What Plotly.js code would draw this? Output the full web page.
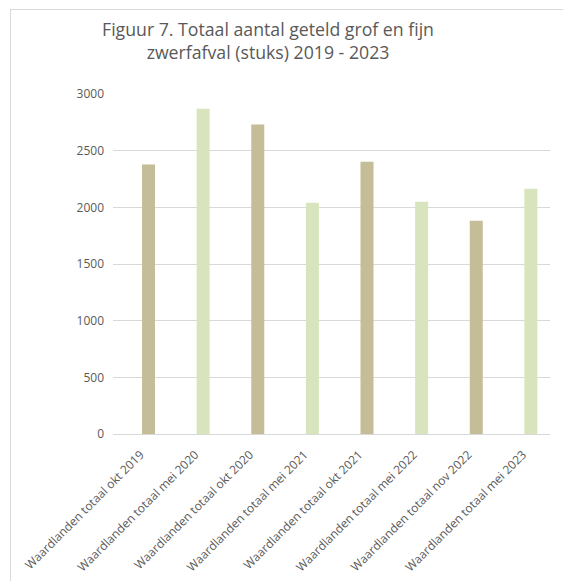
<!DOCTYPE html>
<html><head><meta charset="utf-8">
<script src="https://cdn.plot.ly/plotly-3.0.1.min.js"></script>
<style>
html,body{margin:0;padding:0;background:#fff;}
#frame{position:absolute;left:10px;top:9px;width:600px;height:600px;border:1px solid #d9d9d9;box-sizing:border-box;pointer-events:none;z-index:5;}
#chart{position:absolute;left:0;top:0;width:563px;height:581px;}
</style></head>
<body>
<div id="chart"></div>
<div id="frame"></div>
<script>
const categories = [
  "Waardlanden totaal okt 2019",
  "Waardlanden totaal mei 2020",
  "Waardlanden totaal okt 2020",
  "Waardlanden totaal mei 2021",
  "Waardlanden totaal okt 2021",
  "Waardlanden totaal mei 2022",
  "Waardlanden totaal nov 2022",
  "Waardlanden totaal mei 2023"
];
const values = [2378, 2870, 2730, 2040, 2403, 2050, 1882, 2165];
const barColors = ["#C4BD97","#D7E4BD","#C4BD97","#D7E4BD","#C4BD97","#D7E4BD","#C4BD97","#D7E4BD"];
const yTicks = [0, 500, 1000, 1500, 2000, 2500, 3000];

const trace = {
  type: "bar",
  x: categories,
  y: values,
  marker: {color: barColors, line: {width: 0}},
  hoverinfo: "x+y"
};
const layout = {
  width: 563, height: 581,
  margin: {l: 113, r: 13, t: 94, b: 147},
  paper_bgcolor: "#ffffff", plot_bgcolor: "#ffffff",
  bargap: 0.762,
  showlegend: false,
  font: {family: "Open Sans, sans-serif", color: "#595959"},
  title: {
    text: "Figuur 7. Totaal aantal geteld grof en fijn<br>zwerfafval (stuks) 2019 - 2023",
    font: {family: "Open Sans, sans-serif", size: 17.7, color: "#595959"},
    x: 268/563, xref: "container", xanchor: "center",
    y: 1 - 36/581, yref: "container", yanchor: "middle"
  },
  xaxis: {
    type: "category",
    range: [-0.65, 7.35],
    automargin: false,
    tickangle: -45,
    tickfont: {size: 12, color: "#595959"},
    showgrid: false,
    showline: true, linecolor: "#d9d9d9", linewidth: 1,
    ticks: "", ticklen: 0,
    ticklabelstandoff: 8,
    ticklabelshift: -8
  },
  yaxis: {
    range: [0, 3000],
    automargin: false,
    tickvals: yTicks,
    ticktext: yTicks.map(String),
    tickfont: {size: 12, color: "#595959"},
    showgrid: true, gridcolor: "#d9d9d9", gridwidth: 1,
    zeroline: false, showline: false,
    ticklabelstandoff: 8
  }
};
Plotly.newPlot("chart", [trace], layout, {displayModeBar: false, staticPlot: true});
</script>
</body></html>
